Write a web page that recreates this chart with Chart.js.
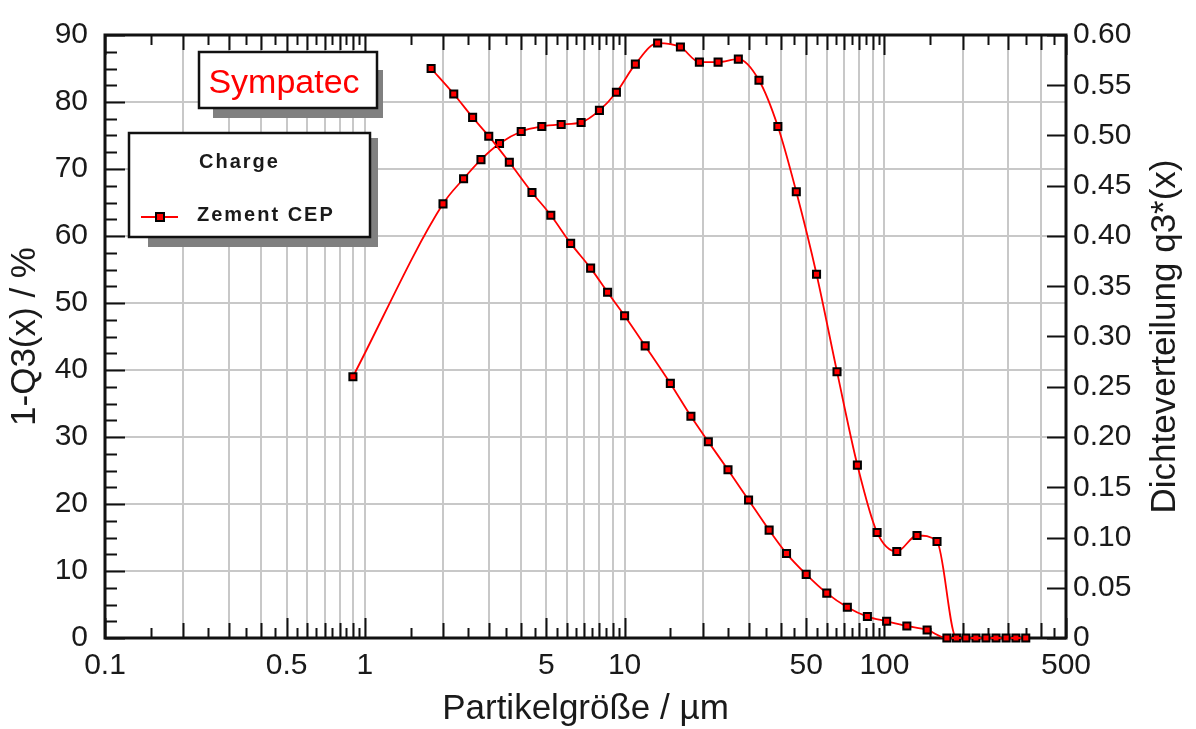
<!DOCTYPE html>
<html>
<head>
<meta charset="utf-8">
<script src="https://cdn.jsdelivr.net/npm/chart.js@4.4.1/dist/chart.umd.min.js"></script>
<style>
  html, body { margin: 0; padding: 0; background: #fff; }
  #wrap { width: 1196px; height: 729px; }
</style>
</head>
<body>
<div id="wrap"><canvas id="chart"></canvas></div>
<script>
// class upper limits in µm with the residue 1-Q3 in %
var sizes = [1.8, 2.2, 2.6, 3.0, 3.6, 4.4, 5.2, 6.2, 7.4, 8.6, 10, 12, 15, 18, 21, 25, 30, 36, 42, 50, 60, 72, 86, 102, 122, 146, 174, 206, 246, 294, 350];
var residue = [85.0, 81.2, 77.7, 74.9, 71.0, 66.5, 63.1, 58.9, 55.2, 51.6, 48.1, 43.6, 38.0, 33.1, 29.3, 25.1, 20.6, 16.1, 12.6, 9.5, 6.7, 4.6, 3.2, 2.5, 1.8, 1.2, 0, 0, 0, 0, 0];
// class mid points in µm with the density q3*
var midSizes = [0.9, 2.0, 2.4, 2.8, 3.3, 4.0, 4.8, 5.7, 6.8, 8.0, 9.3, 11.0, 13.4, 16.4, 19.4, 22.9, 27.4, 32.9, 38.9, 45.8, 54.8, 65.7, 78.7, 93.7, 111.6, 133.5, 159.4, 189.3, 225.1, 268.9, 320.8];
var density = [0.260, 0.432, 0.457, 0.476, 0.492, 0.504, 0.509, 0.511, 0.513, 0.525, 0.543, 0.571, 0.592, 0.588, 0.573, 0.573, 0.576, 0.555, 0.509, 0.444, 0.362, 0.265, 0.172, 0.105, 0.086, 0.102, 0.096, 0, 0, 0, 0];
var xLabels = [0.1, 0.5, 1, 5, 10, 50, 100, 500];
var seriesName = 'Zement CEP';
var legendTitle = 'Charge';
var brand = 'Sympatec';

var FONT = "'Liberation Sans', Arial, sans-serif";
var INK = '#1a1a1a';
var RED = '#ff0000';
Chart.defaults.font.family = FONT;
Chart.defaults.color = INK;

// grid lines at 1..9 per decade, small marks at the half steps
var decades = [0.1, 1, 10, 100];
var gridVals = [];
var tickMarks = [];
decades.forEach(function (d) {
  for (var m = 1; m < 10; m += 0.5) {
    var v = +(m * d).toPrecision(6);
    if (v > 500) continue;
    if (m % 1 === 0) gridVals.push(v);
    tickMarks.push({ v: v, len: (m === 1 || m === 5) ? 20 : (m % 1 === 0 ? 15 : 10) });
  }
});

function drawBox(ctx, x, y, w, h, sh) {
  ctx.fillStyle = '#808080';
  ctx.fillRect(sh[0], sh[1], sh[2], sh[3]);
  ctx.fillStyle = '#fff';
  ctx.fillRect(x, y, w, h);
  ctx.strokeStyle = '#111';
  ctx.lineWidth = 2.5;
  ctx.strokeRect(x, y, w, h);
}

var framePlugin = {
  id: 'frame',
  beforeDatasetsDraw: function (chart) {
    var ctx = chart.ctx, a = chart.chartArea;
    var x = chart.scales.x, y = chart.scales.y, y1 = chart.scales.y1;
    ctx.save();
    ctx.strokeStyle = '#111';
    ctx.lineWidth = 2;
    ctx.beginPath();
    tickMarks.forEach(function (t) {
      var px = Math.round(x.getPixelForValue(t.v)) + 0.5;
      ctx.moveTo(px, a.bottom); ctx.lineTo(px, a.bottom - t.len);
      ctx.moveTo(px, a.top); ctx.lineTo(px, a.top + t.len);
    });
    for (var v = 0; v <= 90; v += 2.5) {
      var py = Math.round(y.getPixelForValue(v)) + 0.5;
      ctx.moveTo(a.left, py); ctx.lineTo(a.left + (v % 10 === 0 ? 20 : 12), py);
    }
    for (var i = 0; i <= 12; i++) {
      var qy = Math.round(y1.getPixelForValue(i * 0.05)) + 0.5;
      ctx.moveTo(a.right, qy); ctx.lineTo(a.right - 19, qy);
    }
    ctx.stroke();
    ctx.lineWidth = 3;
    ctx.strokeRect(a.left, a.top, a.right - a.left, a.bottom - a.top);
    ctx.restore();
  },
  afterDraw: function (chart) {
    var ctx = chart.ctx, a = chart.chartArea;
    ctx.save();
    // brand box
    drawBox(ctx, 199, 52, 178, 56, [213, 70, 170, 48]);
    ctx.fillStyle = RED;
    ctx.font = '34px ' + FONT;
    ctx.textAlign = 'center';
    ctx.textBaseline = 'alphabetic';
    ctx.fillText(brand, 284, 93);
    // legend box
    drawBox(ctx, 129, 133, 241, 104, [148, 138, 230, 109]);
    ctx.fillStyle = INK;
    ctx.font = 'bold 20px ' + FONT;
    ctx.letterSpacing = '2px';
    ctx.textAlign = 'left';
    ctx.textBaseline = 'middle';
    ctx.fillText(legendTitle, 199, 162);
    ctx.fillText(seriesName, 197, 215);
    ctx.letterSpacing = '0px';
    ctx.strokeStyle = RED;
    ctx.lineWidth = 2;
    ctx.beginPath(); ctx.moveTo(141, 217); ctx.lineTo(178, 217); ctx.stroke();
    ctx.fillStyle = RED;
    ctx.fillRect(156, 213, 8, 8);
    ctx.strokeStyle = '#000';
    ctx.strokeRect(156, 213, 8, 8);
    // right axis title, reads bottom to top
    ctx.translate(1165, (a.top + a.bottom) / 2);
    ctx.rotate(-Math.PI / 2);
    ctx.fillStyle = INK;
    ctx.font = '35px ' + FONT;
    ctx.textAlign = 'center';
    ctx.textBaseline = 'middle';
    ctx.fillText('Dichteverteilung q3*(x)', 0, 0);
    ctx.restore();
  }
};

var lineStyle = {
  borderColor: RED,
  borderWidth: 1.8,
  pointStyle: 'rect',
  pointRadius: 5,
  pointBackgroundColor: RED,
  pointBorderColor: '#000',
  pointBorderWidth: 2,
  cubicInterpolationMode: 'monotone',
  clip: false
};

new Chart(document.getElementById('chart'), {
  type: 'line',
  data: {
    datasets: [
      Object.assign({
        label: seriesName,
        yAxisID: 'y',
        data: sizes.map(function (s, i) { return { x: s, y: residue[i] }; })
      }, lineStyle),
      Object.assign({
        label: seriesName,
        yAxisID: 'y1',
        data: midSizes.map(function (s, i) { return { x: s, y: density[i] }; })
      }, lineStyle)
    ]
  },
  options: {
    responsive: true,
    maintainAspectRatio: false,
    animation: false,
    layout: { padding: { top: 23, left: 0, right: 0, bottom: 0 } },
    plugins: { legend: { display: false }, tooltip: { enabled: false } },
    scales: {
      x: {
        type: 'logarithmic',
        position: 'bottom',
        min: 0.1,
        max: 500,
        afterBuildTicks: function (s) { s.ticks = gridVals.map(function (v) { return { value: v }; }); },
        afterFit: function (s) { s.height = 91; },
        grid: { color: '#c8c8c8', lineWidth: 2, drawTicks: false },
        border: { display: false },
        ticks: {
          autoSkip: false, maxRotation: 0, padding: 10, color: INK, font: { size: 30 },
          callback: function (v) { return xLabels.indexOf(v) >= 0 ? String(v) : ''; }
        },
        title: { display: true, text: 'Partikelgröße / µm', color: INK, font: { size: 35, lineHeight: 1.1 }, padding: 0 }
      },
      y: {
        position: 'left',
        min: 0,
        max: 90,
        afterFit: function (s) { s.width = 105; },
        grid: { color: '#c8c8c8', lineWidth: 2, drawTicks: false },
        border: { display: false },
        ticks: { stepSize: 10, padding: 17, color: INK, font: { size: 30 } },
        title: { display: true, text: '1-Q3(x) / %', color: INK, font: { size: 35, lineHeight: 1.2 }, padding: { top: 4, bottom: 0 } }
      },
      y1: {
        position: 'right',
        min: 0,
        max: 0.6,
        afterFit: function (s) { s.width = 130; },
        grid: { display: false, drawTicks: false },
        border: { display: false },
        ticks: {
          stepSize: 0.05, padding: 7, color: INK, font: { size: 30 },
          callback: function (v) { return v === 0 ? '0' : v.toFixed(2); }
        }
      }
    }
  },
  plugins: [framePlugin]
});
</script>
</body>
</html>
